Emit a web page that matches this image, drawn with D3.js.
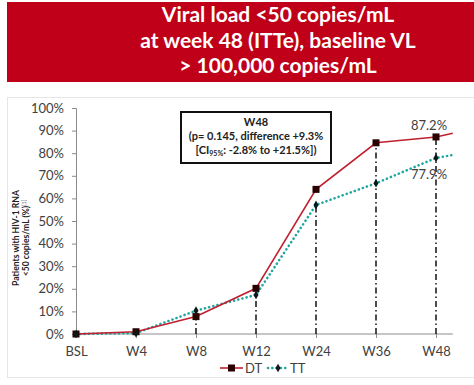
<!DOCTYPE html>
<html>
<head>
<meta charset="utf-8">
<script src="https://cdn.jsdelivr.net/npm/d3@7"></script>
<style>
  html, body { margin: 0; padding: 0; background: #fff; }
  svg { display: block; font-family: Lato, "Open Sans", sans-serif; }
</style>
</head>
<body>
<div id="chart"></div>
<script>
const WEEKS = ['BSL', 'W4', 'W8', 'W12', 'W24', 'W36', 'W48'];
const DT_VALUES = [0, 1.0, 7.7, 20.2, 64.0, 84.6, 87.2];
const TT_VALUES = [0, 0.4, 10.3, 17.3, 57.1, 66.7, 77.9];
// line tails drawn past W48 in the original
const DT_TAIL = 88.8;
const TT_TAIL = 79.2;
const DROP_TO = [null, null, 'DT', 'TT', 'TT', 'DT', 'DT'];
const Y_TICKS = [0, 10, 20, 30, 40, 50, 60, 70, 80, 90, 100];
const TITLE_LINES = ['Viral load <50 copies/mL', 'at week 48 (ITTe), baseline VL', '> 100,000 copies/mL'];

const W = 474, H = 385;
const RED = '#c00018';
const DT_COLOR = '#c0202e';
const TT_COLOR = '#1ea7a0';
const TEXT = '#404040';

const svg = d3.select('#chart').append('svg').attr('width', W).attr('height', H);

// banner
svg.append('rect').attr('x', 7).attr('y', 2).attr('width', W - 7).attr('height', 80).attr('fill', RED);
svg.append('g').selectAll('text')
  .data(TITLE_LINES)
  .join('text')
  .attr('x', 278).attr('y', (d, i) => 22 + i * 25.5)
  .attr('text-anchor', 'middle')
  .attr('fill', '#fff').attr('font-size', '21px').attr('font-weight', '700')
  .text(d => d);

// light panel frame
svg.append('rect').attr('x', 7.5).attr('y', 97.5).attr('width', W - 7).attr('height', 280)
  .attr('fill', 'none').attr('stroke', '#e6e6e6');

const x = d3.scalePoint().domain(WEEKS).range([76, 436]);
const step = x.step();
const xEnd = x('W48') + step * 0.28;
const y = d3.scaleLinear().domain([0, 100]).range([334, 108]);

// y axis
const yAxis = svg.append('g').attr('transform', 'translate(76,0)')
  .call(d3.axisLeft(y).tickValues(Y_TICKS).tickFormat(d => d + '%').tickSize(4).tickPadding(8));
yAxis.select('.domain').attr('stroke', '#8c8c8c');
yAxis.selectAll('.tick line').attr('stroke', '#8c8c8c');
yAxis.selectAll('.tick text').attr('fill', TEXT).attr('font-size', '13px').attr('font-family', 'Lato, sans-serif');

// x axis
const xAxis = svg.append('g').attr('transform', 'translate(0,334)')
  .call(d3.axisBottom(x).tickSize(4).tickPadding(9).tickSizeOuter(0));
xAxis.select('.domain').attr('d', `M76,0H${xEnd}`).attr('stroke', '#8c8c8c');
xAxis.selectAll('.tick line').attr('stroke', '#8c8c8c');
xAxis.selectAll('.tick text').attr('fill', TEXT).attr('font-size', '13px').attr('font-family', 'Lato, sans-serif');

// y axis title
const yt = svg.append('text').attr('transform', 'translate(19,238) rotate(-90)')
  .attr('text-anchor', 'middle').attr('font-size', '8.6px').attr('font-weight', '700').attr('fill', '#222');
yt.append('tspan').attr('x', 0).attr('dy', 0).text('Patients with HIV-1 RNA');
yt.append('tspan').attr('x', 0).attr('dy', 10).text('<50 copies/mL (%)');
yt.append('tspan').attr('dy', -3).attr('font-size', '5px').attr('font-weight', '400').text('[1]');

// drop lines
const dropData = WEEKS.map((w, i) => ({ w, i, to: DROP_TO[i] })).filter(d => d.to);
svg.append('g').selectAll('line')
  .data(dropData)
  .join('line')
  .attr('x1', d => x(d.w)).attr('x2', d => x(d.w))
  .attr('y1', y(0))
  .attr('y2', d => y(d.to === 'DT' ? DT_VALUES[d.i] : TT_VALUES[d.i]))
  .attr('stroke', '#111').attr('stroke-width', 1.5)
  .attr('stroke-dasharray', '6,3,1.5,3');

const line = d3.line().x(d => d[0]).y(d => y(d[1]));
const dtPts = WEEKS.map((w, i) => [x(w), DT_VALUES[i]]).concat([[xEnd, DT_TAIL]]);
const ttPts = WEEKS.map((w, i) => [x(w), TT_VALUES[i]]).concat([[xEnd, TT_TAIL]]);

svg.append('path').attr('d', line(ttPts)).attr('fill', 'none')
  .attr('stroke', TT_COLOR).attr('stroke-width', 2.6).attr('stroke-dasharray', '0.1,4.2')
  .attr('stroke-linecap', 'round');
svg.append('path').attr('d', line(dtPts)).attr('fill', 'none')
  .attr('stroke', DT_COLOR).attr('stroke-width', 1.6);

// markers
svg.append('g').selectAll('rect')
  .data(WEEKS.map((w, i) => [x(w), DT_VALUES[i]]))
  .join('rect')
  .attr('x', d => d[0] - 3.5).attr('y', d => y(d[1]) - 3.5)
  .attr('width', 7).attr('height', 7).attr('fill', '#2a0000');
const diamond = d3.symbol().type(d3.symbolDiamond).size(22);
svg.append('g').selectAll('path')
  .data(WEEKS.map((w, i) => [x(w), TT_VALUES[i]]))
  .join('path')
  .attr('transform', d => `translate(${d[0]},${y(d[1])})`)
  .attr('d', diamond).attr('fill', '#0a1a1a');

// value labels at W48
svg.append('text').attr('x', x('W48') - 7).attr('y', 130).attr('text-anchor', 'middle')
  .attr('font-size', '13px').attr('fill', TEXT).text(DT_VALUES[6].toFixed(1) + '%');
svg.append('text').attr('x', x('W48') - 7).attr('y', 179).attr('text-anchor', 'middle')
  .attr('font-size', '13px').attr('fill', TEXT).text(TT_VALUES[6].toFixed(1) + '%');

// annotation box
svg.append('rect').attr('x', 181).attr('y', 112).attr('width', 150).attr('height', 51)
  .attr('fill', '#fff').attr('stroke', '#111').attr('stroke-width', 2);
const ann = svg.append('text').attr('text-anchor', 'middle').attr('font-size', '11px')
  .attr('font-weight', '700').attr('fill', '#222');
ann.append('tspan').attr('x', 256).attr('y', 126).text('W48');
ann.append('tspan').attr('x', 256).attr('y', 140).text('(p= 0.145, difference +9.3%');
const l3 = ann.append('tspan').attr('x', 256).attr('y', 154);
l3.append('tspan').text('[CI');
l3.append('tspan').attr('font-size', '7px').attr('dy', 2).text('95%');
l3.append('tspan').attr('dy', -2).text(': -2.8% to +21.5%])');

// legend
const lg = svg.append('g').attr('transform', 'translate(0,368)');
lg.append('line').attr('x1', 220).attr('x2', 243).attr('stroke', DT_COLOR).attr('stroke-width', 1.6);
lg.append('rect').attr('x', 228).attr('y', -3.5).attr('width', 7).attr('height', 7).attr('fill', '#2a0000');
lg.append('text').attr('x', 245).attr('y', 4.5).attr('font-size', '13px').attr('fill', TEXT).text('DT');
lg.append('line').attr('x1', 268).attr('x2', 289).attr('stroke', TT_COLOR).attr('stroke-width', 2.6)
  .attr('stroke-dasharray', '0.1,4.2').attr('stroke-linecap', 'round');
lg.append('path').attr('transform', 'translate(278,0)').attr('d', diamond).attr('fill', '#0a1a1a');
lg.append('text').attr('x', 290).attr('y', 4.5).attr('font-size', '13px').attr('fill', TEXT).text('TT');
</script>
</body>
</html>
